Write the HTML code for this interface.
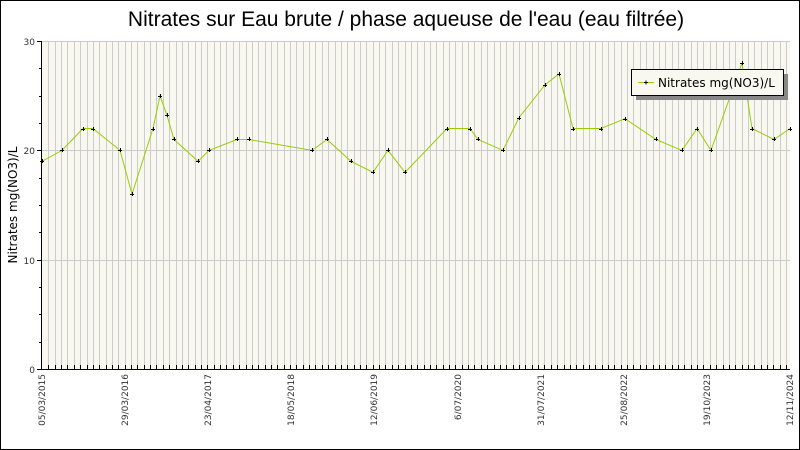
<!DOCTYPE html>
<html><head><meta charset="utf-8"><style>
html,body{margin:0;padding:0;background:#fff}
svg{display:block}
text{font-family:"DejaVu Sans","Liberation Sans",sans-serif}
</style></head><body>
<svg width="800" height="450" viewBox="0 0 800 450" xmlns="http://www.w3.org/2000/svg">
<rect x="0.5" y="0.5" width="799" height="449" fill="#fff" stroke="#000"/>
<text x="406" y="26" font-size="21" text-anchor="middle" fill="#000" style="font-family:'Liberation Sans',sans-serif">Nitrates sur Eau brute / phase aqueuse de l'eau (eau filtrée)</text>
<rect x="42" y="41" width="748" height="328" fill="#f8f8f0"/>
<g id="vg" stroke="#cccccc" stroke-width="1"></g>
<g stroke="#cccccc">
<line x1="42" y1="150.5" x2="790" y2="150.5"/>
<line x1="42" y1="260.5" x2="790" y2="260.5"/>
<line x1="42" y1="41.5" x2="790" y2="41.5"/>
</g>
<g id="xt" stroke="#000"></g>
<g stroke="#000">
<line x1="41.5" y1="41" x2="41.5" y2="369"/>
<line x1="41" y1="369.5" x2="790" y2="369.5"/>
<line x1="37" y1="41.5" x2="42" y2="41.5"/>
<line x1="37" y1="150.5" x2="42" y2="150.5"/>
<line x1="37" y1="260.5" x2="42" y2="260.5"/>
<line x1="37" y1="369.5" x2="42" y2="369.5"/>
<line x1="39" y1="68.5" x2="42" y2="68.5"/><line x1="39" y1="96.5" x2="42" y2="96.5"/><line x1="39" y1="123.5" x2="42" y2="123.5"/>
<line x1="39" y1="178.5" x2="42" y2="178.5"/><line x1="39" y1="205.5" x2="42" y2="205.5"/><line x1="39" y1="232.5" x2="42" y2="232.5"/>
<line x1="39" y1="287.5" x2="42" y2="287.5"/><line x1="39" y1="314.5" x2="42" y2="314.5"/><line x1="39" y1="342.5" x2="42" y2="342.5"/>
</g>
<g font-size="9" fill="#333" text-anchor="end">
<text x="35" y="45">30</text><text x="35" y="154">20</text><text x="35" y="264">10</text><text x="35" y="373">0</text>
</g>
<text transform="translate(17,205) rotate(-90)" font-size="12" text-anchor="middle" fill="#000">Nitrates mg(NO3)/L</text>
<g font-size="9" fill="#333" text-anchor="end">
<text transform="translate(45,374) rotate(-90)">05/03/2015</text>
<text transform="translate(128,374) rotate(-90)">29/03/2016</text>
<text transform="translate(211,374) rotate(-90)">23/04/2017</text>
<text transform="translate(294,374) rotate(-90)">18/05/2018</text>
<text transform="translate(377,374) rotate(-90)">12/06/2019</text>
<text transform="translate(461,374) rotate(-90)">6/07/2020</text>
<text transform="translate(544,374) rotate(-90)">31/07/2021</text>
<text transform="translate(627,374) rotate(-90)">25/08/2022</text>
<text transform="translate(710,374) rotate(-90)">19/10/2023</text>
<text transform="translate(793,374) rotate(-90)">12/11/2024</text>
</g>
<polyline id="ln" fill="none" stroke="#99cc00" stroke-width="1" points=""/>
<g id="mk" stroke="#000" stroke-width="1"></g>
<rect x="636" y="74" width="152" height="26" fill="#888"/>
<rect x="631.5" y="69.5" width="152" height="26" fill="#f8f8f0" stroke="#000"/>
<line x1="638" y1="82.5" x2="654" y2="82.5" stroke="#99cc00"/>
<path d="M644,82.5h4M646,80.5v4" stroke="#000"/>
<text x="658" y="87" font-size="12" fill="#000">Nitrates mg(NO3)/L</text>
</svg>
<script>
var ns="http://www.w3.org/2000/svg";
var vg=document.getElementById("vg"),xt=document.getElementById("xt");
for(var i=1;i<118;i++){var x=Math.round(42+i*6.36)+0.5;
var l=document.createElementNS(ns,"line");l.setAttribute("x1",x);l.setAttribute("x2",x);l.setAttribute("y1",41);l.setAttribute("y2",369);vg.appendChild(l);
var t=document.createElementNS(ns,"line");t.setAttribute("x1",x);t.setAttribute("x2",x);t.setAttribute("y1",365);t.setAttribute("y2",369);xt.appendChild(t);}
var d=[[42,19],[62,20],[83,22],[93,22],[120,20],[132,16],[153,22],[160,25],[167,23.2],[174,21],[198,19],[209,20],[237,21],[249,21],[312,20],[327,21],[351,19],[373,18],[388,20],[405,18],[447,22],[470,22],[478,21],[503,20],[519,23],[545,26],[559,27],[573,22],[601,22],[625,22.9],[656,21],[682,20],[697,22],[711,20],[742,28],[752,22],[774,21],[790,22]];
var pts=[],mk=document.getElementById("mk");
d.forEach(function(p){var y=369-p[1]*10.93;pts.push(p[0]+","+y.toFixed(1));
var m=document.createElementNS(ns,"path");m.setAttribute("d","M"+(p[0]-2)+","+(Math.round(y)+0.5)+"h4M"+(p[0]+0.5)+","+(Math.round(y)-2)+"v4");mk.appendChild(m);});
document.getElementById("ln").setAttribute("points",pts.join(" "));
</script>
</body></html>
